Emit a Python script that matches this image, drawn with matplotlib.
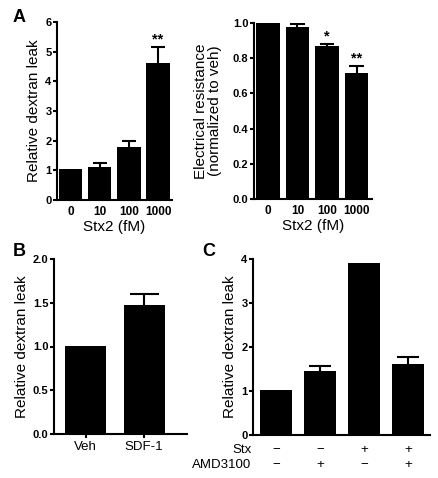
import matplotlib
matplotlib.use("Agg")
import matplotlib.pyplot as plt
import matplotlib.transforms as mtransforms
import numpy as np

plt.rcParams['font.family'] = ['Liberation Sans', 'DejaVu Sans']

# panel A, left: dextran leak vs Stx2 dose
stx_doses = ['0', '10', '100', '1000']
leak_a = [1.03, 1.10, 1.77, 4.62]
leak_a_err = [0.0, 0.15, 0.21, 0.53]
leak_a_stars = ['', '', '', '**']

# panel A, right: electrical resistance
resist = [1.0, 0.98, 0.87, 0.715]
resist_err = [0.0, 0.012, 0.01, 0.04]
resist_stars = ['', '', '*', '**']

# panel B
b_labels = ['Veh', 'SDF-1']
leak_b = [1.01, 1.47]
leak_b_err = [0.0, 0.13]

# panel C
stx_row = ['\u2212', '\u2212', '+', '+']
amd_row = ['\u2212', '+', '\u2212', '+']
leak_c = [1.02, 1.46, 3.92, 1.62]
leak_c_err = [0.0, 0.11, 0.0, 0.15]

W, H = 439, 478
fig = plt.figure(figsize=(W / 100, H / 100), dpi=100)


def px_axes(x0, x1, ytop, ybot):
    return fig.add_axes([x0 / W, 1 - ybot / H, (x1 - x0) / W, (ybot - ytop) / H])


def style(ax):
    for s in ['top', 'right']:
        ax.spines[s].set_visible(False)
    for s in ['left', 'bottom']:
        ax.spines[s].set_linewidth(1.5)
    ax.tick_params(axis='y', direction='out', length=3, width=1.5, labelsize=8, pad=1)
    for t in ax.get_yticklabels():
        t.set_fontweight('bold')


def bars(ax, vals, errs, width, cap=0.5):
    x = np.arange(len(vals))
    ax.bar(x, vals, width=width, color='black', linewidth=0, zorder=2)
    # upper error bars only, drawn where there is an error
    for i in range(len(vals)):
        if errs[i] > 0:
            top = vals[i] + errs[i]
            ax.vlines(x[i], vals[i], top, color='black', linewidth=1.5, zorder=1)
            ax.hlines(top, x[i] - cap / 2, x[i] + cap / 2, color='black', linewidth=1.5, zorder=1)
    return x


# ---- A left
ax1 = px_axes(57, 172, 22, 200)
x = bars(ax1, leak_a, leak_a_err, 0.8)
ax1.set_xlim(-0.47, 3.48)
ax1.set_ylim(0, 6)
ax1.set_yticks(range(0, 7))
ax1.set_xticks(x)
ax1.set_xticklabels(stx_doses, fontweight='bold', fontsize=8.5)
ax1.tick_params(axis='x', length=0, pad=4)
ax1.set_xlabel('Stx2 (fM)', fontsize=11, labelpad=2)
ax1.set_ylabel('Relative dextran leak', fontsize=11, labelpad=3)
style(ax1)
for i, s in enumerate(leak_a_stars):
    if s:
        ax1.text(i, leak_a[i] + leak_a_err[i] + 0.02, s, ha='center', va='bottom',
                 fontsize=10.5, fontweight='bold')

# ---- A right
ax2 = px_axes(254, 372, 23, 199)
x = bars(ax2, resist, resist_err, 0.8)
ax2.set_xlim(-0.47, 3.52)
ax2.set_ylim(0, 1.0)
ax2.set_yticks(np.arange(0, 1.01, 0.2))
ax2.set_yticklabels(['%.1f' % v for v in np.arange(0, 1.01, 0.2)])
ax2.set_xticks(x)
ax2.set_xticklabels(stx_doses, fontweight='bold', fontsize=8.5)
ax2.tick_params(axis='x', length=0, pad=4)
ax2.set_xlabel('Stx2 (fM)', fontsize=11, labelpad=2)
ax2.set_ylabel('Electrical resistance\n(normalized to veh)', fontsize=11, labelpad=8,
               linespacing=1.0)
style(ax2)
for i, s in enumerate(resist_stars):
    if s:
        ax2.text(i, resist[i] + resist_err[i] + 0.002, s, ha='center', va='bottom',
                 fontsize=10.5, fontweight='bold')

# ---- B
ax3 = px_axes(54, 187, 259, 434)
x = bars(ax3, leak_b, leak_b_err, 0.7)
ax3.set_xlim(-0.54, 1.73)
ax3.set_ylim(0, 2.0)
ax3.set_yticks(np.arange(0, 2.01, 0.5))
ax3.set_yticklabels(['%.1f' % v for v in np.arange(0, 2.01, 0.5)])
ax3.set_xticks(x)
ax3.set_xticklabels(b_labels, fontsize=9.5)
ax3.tick_params(axis='x', direction='out', length=3, width=1.5, pad=2)
ax3.set_ylabel('Relative dextran leak', fontsize=11, labelpad=3)
style(ax3)

# ---- C
ax4 = px_axes(253, 430, 259, 435)
x = bars(ax4, leak_c, leak_c_err, 0.72)
ax4.set_xlim(-0.52, 3.5)
ax4.set_ylim(0, 4)
ax4.set_yticks(range(0, 5))
ax4.set_xticks([])
ax4.set_ylabel('Relative dextran leak', fontsize=11, labelpad=3)
style(ax4)
trans = mtransforms.blended_transform_factory(ax4.transData, ax4.transAxes)
for i in range(len(leak_c)):
    ax4.text(x[i], -0.085, stx_row[i], transform=trans, ha='center', va='center', fontsize=9.5)
    ax4.text(x[i], -0.17, amd_row[i], transform=trans, ha='center', va='center', fontsize=9.5)
ax4.text(-0.01, -0.085, 'Stx', transform=ax4.transAxes, ha='right', va='center', fontsize=9.5)
ax4.text(-0.01, -0.17, 'AMD3100', transform=ax4.transAxes, ha='right', va='center', fontsize=9.5)

# panel letters
fig.text(19 / W, 1 - 18 / H, 'A', fontsize=13, fontweight='bold', ha='center', va='center')
fig.text(19 / W, 1 - 252 / H, 'B', fontsize=13, fontweight='bold', ha='center', va='center')
fig.text(209 / W, 1 - 252 / H, 'C', fontsize=13, fontweight='bold', ha='center', va='center')

fig.savefig('out.png', dpi=100)
